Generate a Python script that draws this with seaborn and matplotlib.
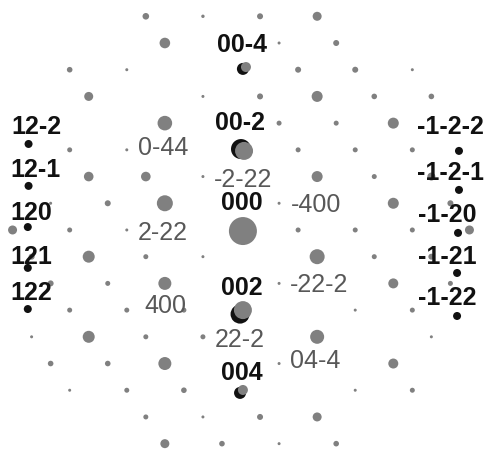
import matplotlib
matplotlib.use("Agg")
import matplotlib.pyplot as plt
import seaborn as sns
import pandas as pd
import numpy as np

sns.set_theme(style="white")
plt.rcParams['font.family'] = ['Liberation Sans', 'DejaVu Sans']

# Gray reflections of the pattern: lattice column, lattice row, spot radius (px)
spot_col = [-5, -2, 1, 4,
            -4, 2, 5,
            -9, -6, 3, 6, 9,
            -8, -2, 1, 4, 7, 10,
            -4, 2, 5, 8,
            -9, -6, 3, 6, 9,
            -8, -5, -2, 4, 7, 10,
            -10, -7, -4, 2, 8, 11,
            -12, -9, -6, 3, 6, 9, 12,
            -11, -8, -5, -2, 4, 7, 10,
            -10, -7, -4, 2, 8, 11,
            -9, -6, -3, 6, 9,
            -11, -8, -5, -2, 4, 10,
            -10, -7, -4, 2, 8,
            -9, -6, -3, 6, 9,
            -5, -2, 1, 4,
            -4, -1, 2, 5]
spot_row = [-8, -8, -8, -8,
            -7, -7, -7,
            -6, -6, -6, -6, -6,
            -5, -5, -5, -5, -5, -5,
            -4, -4, -4, -4,
            -3, -3, -3, -3, -3,
            -2, -2, -2, -2, -2, -2,
            -1, -1, -1, -1, -1, -1,
            0, 0, 0, 0, 0, 0, 0,
            1, 1, 1, 1, 1, 1, 1,
            2, 2, 2, 2, 2, 2,
            3, 3, 3, 3, 3,
            4, 4, 4, 4, 4, 4,
            5, 5, 5, 5, 5,
            6, 6, 6, 6, 6,
            7, 7, 7, 7,
            8, 8, 8, 8]
spot_rad = [3.3, 1.7, 3.0, 4.5,
            5.3, 1.5, 3.0,
            2.8, 1.5, 3.0, 3.0, 1.5,
            4.5, 1.5, 3.0, 5.5, 2.8, 2.8,
            7.3, 2.5, 2.5, 5.5,
            2.5, 1.5, 2.5, 2.5, 2.5,
            4.8, 4.8, 1.5, 5.5, 2.5, 4.0,
            1.5, 3.0, 8.0, 1.5, 5.5, 3.0,
            4.5, 2.5, 1.5, 2.5, 2.5, 2.5, 4.5,
            3.0, 6.0, 2.5, 1.5, 7.5, 2.5, 3.0,
            3.0, 2.5, 6.5, 1.5, 5.0, 2.5,
            2.5, 2.5, 2.5, 1.5, 2.5,
            1.5, 6.0, 2.5, 2.5, 7.0, 1.5,
            2.8, 2.8, 6.5, 1.5, 5.0,
            1.5, 2.5, 2.8, 1.5, 2.5,
            2.5, 1.5, 3.0, 4.5,
            4.5, 2.8, 1.5, 2.8]

# Central row (00l) spots: black component and gray component
cen_black_x = [0.10, 0.00, -0.05, -0.05]
cen_black_y = [-6.03, -3.03, 3.15, 6.10]
cen_black_r = [6.0, 10.0, 9.5, 6.0]
cen_gray_x = [0.26, 0.16, 0.10, 0.10, 0.10]
cen_gray_y = [-6.10, -2.96, 0.04, 3.00, 5.99]
cen_gray_r = [5.0, 9.0, 14.0, 9.0, 5.0]

# Black twin reflections at the sides
side_x = [-11.16, -11.16, -11.20, -11.20, -11.20,
          11.45, 11.45, 11.40, 11.35, 11.35]
side_y = [-3.22, -1.65, -0.11, 1.42, 2.96,
          -2.96, -1.50, 0.11, 1.61, 3.22]
side_r = [4.0, 4.0, 4.0, 4.0, 4.0, 4.0, 4.0, 4.0, 4.0, 4.0]

# Labels
bold_text = ["00-4", "00-2", "000", "002", "004",
             "12-2", "12-1", "120", "121", "122",
             "-1-2-2", "-1-2-1", "-1-20", "-1-21", "-1-22"]
bold_x = [0.05, -0.05, 0.05, 0.05, 0.05,
          -10.77, -10.82, -11.03, -11.03, -11.03,
          10.98, 10.98, 10.82, 10.82, 10.82]
bold_y = [-6.93, -4.01, -1.01, 2.17, 5.36,
          -3.86, -2.25, -0.64, 1.01, 2.36,
          -3.86, -2.13, -0.56, 1.01, 2.55]
gray_text = ["0-44", "-2-22", "-400", "2-22", "-22-2", "400", "22-2", "04-4"]
gray_x = [-4.10, 0.11, 3.94, -4.10, 4.10, -3.99, -0.05, 3.89]
gray_y = [-3.07, -1.87, -0.94, 0.11, 2.06, 2.85, 4.12, 4.91]

DPI = 100
def area(r):
    return (2 * np.asarray(r) * 72.0 / DPI) ** 2

fig = plt.figure(figsize=(4.9, 4.49), dpi=DPI)
ax = fig.add_axes([0, 0, 1, 1])

spots = pd.DataFrame({"col": spot_col, "row": spot_row, "r": spot_rad})
sns.scatterplot(data=spots, x="col", y="row", s=area(spots["r"]),
                color="#808080", linewidth=0, ax=ax, legend=False)

sns.scatterplot(x=cen_black_x, y=cen_black_y, s=area(cen_black_r),
                color="#111111", linewidth=0, ax=ax, legend=False)
sns.scatterplot(x=cen_gray_x, y=cen_gray_y, s=area(cen_gray_r),
                color="#808080", linewidth=0, ax=ax, legend=False)
sns.scatterplot(x=side_x, y=side_y, s=area(side_r),
                color="#111111", linewidth=0, ax=ax, legend=False)

for t, x, y in zip(bold_text, bold_x, bold_y):
    ax.text(x, y, t, ha="center", va="center", fontsize=18,
            fontweight="bold", color="#111111")
for t, x, y in zip(gray_text, gray_x, gray_y):
    ax.text(x, y, t, ha="center", va="center", fontsize=18,
            color="#585858")

ax.set_xlim(-12.66, 13.08)
ax.set_ylim(8.20, -8.61)
ax.axis("off")
fig.savefig("out.png", dpi=DPI, facecolor="white")
